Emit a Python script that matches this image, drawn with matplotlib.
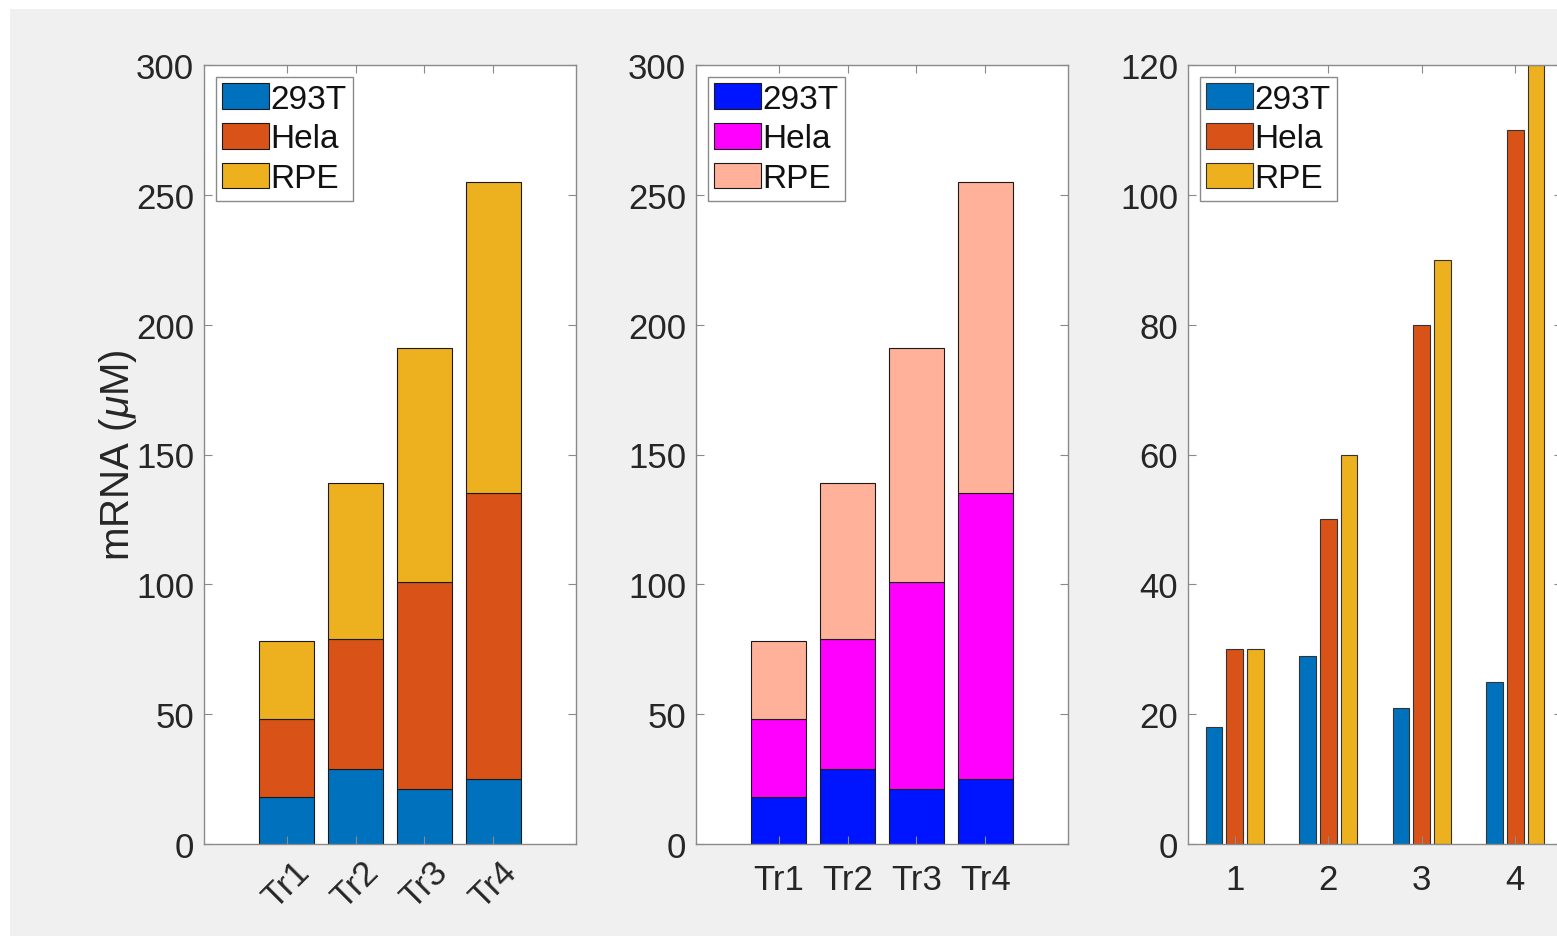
import numpy as np
import matplotlib
matplotlib.use('Agg')
import matplotlib.pyplot as plt
from matplotlib.patches import Rectangle
from matplotlib.transforms import ScaledTranslation

plt.rcParams['font.family'] = ['Liberation Sans', 'DejaVu Sans']
plt.rcParams['mathtext.fontset'] = 'custom'
plt.rcParams['mathtext.it'] = 'Liberation Sans:italic'
plt.rcParams['mathtext.rm'] = 'Liberation Sans'

# Datos por línea celular y tratamiento
tratamientos = ['Tr1', 'Tr2', 'Tr3', 'Tr4']
grupos = [1, 2, 3, 4]
lineas = ['293T', 'Hela', 'RPE']
val_293t = [18, 29, 21, 25]
val_hela = [30, 50, 80, 110]
val_rpe = [30, 60, 90, 120]

colores_matlab = ['#0072BD', '#D95319', '#EDB120']
colores_custom = ['#0015FF', '#FF00FF', '#FFB199']

W, H = 1557, 937
TXT = '#262626'
EJE = '#8a8a8a'

fig = plt.figure(figsize=(W / 100, H / 100), dpi=100, facecolor='white')
fig.patches.append(Rectangle((10 / W, 0), 1, (H - 10) / H, transform=fig.transFigure,
                             facecolor='#f0f0f0', edgecolor='none', zorder=-10))


def estilo_ejes(ax):
    for s in ax.spines.values():
        s.set_color(EJE)
        s.set_linewidth(1.0)
    ax.tick_params(direction='in', length=6, width=0.8, color=EJE,
                   top=True, right=True, labelsize=25, labelcolor=TXT)
    ax.tick_params(axis='y', pad=7)
    ax.tick_params(axis='x', pad=14)


def apiladas(ax, colores):
    x = np.arange(1, len(tratamientos) + 1)
    base = np.zeros(len(x))
    for serie, nombre, c in zip([val_293t, val_hela, val_rpe], lineas, colores):
        ax.bar(x, serie, width=0.8, bottom=base, color=c, edgecolor='#1a1a1a',
               linewidth=0.8, label=nombre)
        base += np.array(serie)
    ax.set_xlim(-0.2, 5.2)
    ax.set_ylim(0, 300)
    ax.set_yticks(np.arange(0, 301, 50))
    ax.set_xticks(x)
    estilo_ejes(ax)


def leyenda(ax):
    lg = ax.legend(loc='upper left', fontsize=24, fancybox=False, framealpha=1,
                   edgecolor=EJE, handlelength=1.4, handleheight=0.8,
                   handletextpad=0.05, borderpad=0.2, labelspacing=0.25,
                   borderaxespad=0.35)
    lg.get_frame().set_linewidth(1.0)
    for t in lg.get_texts():
        t.set_color('#111111')


ax1 = fig.add_axes([204 / W, (H - 845) / H, 372 / W, 779 / H])
apiladas(ax1, colores_matlab)
ax1.set_xticklabels(tratamientos, rotation=45, ha='right', rotation_mode='anchor')
ax1.tick_params(axis='x', pad=8)
# etiquetas giradas un poco hacia la derecha
desplaza = ScaledTranslation(6 / 100, 0, fig.dpi_scale_trans)
for lbl in ax1.get_xticklabels():
    lbl.set_transform(lbl.get_transform() + desplaza)
ax1.set_ylabel(r'mRNA ($\mu$M)', fontsize=29, color=TXT, labelpad=-2)
leyenda(ax1)

ax2 = fig.add_axes([696 / W, (H - 845) / H, 372 / W, 779 / H])
apiladas(ax2, colores_custom)
ax2.set_xticklabels(tratamientos)
leyenda(ax2)

# Barras agrupadas
ax3 = fig.add_axes([1188 / W, (H - 845) / H, 374 / W, 779 / H])
xg = np.array(grupos, dtype=float)
desp = 0.222
for i, (serie, nombre, c) in enumerate(zip([val_293t, val_hela, val_rpe], lineas, colores_matlab)):
    ax3.bar(xg + (i - 1) * desp, serie, width=0.18, color=c, edgecolor='#333333',
            linewidth=0.8, label=nombre)
ax3.set_xlim(0.5, 4.5)
ax3.set_ylim(0, 120)
ax3.set_yticks(np.arange(0, 121, 20))
ax3.set_xticks(grupos)
estilo_ejes(ax3)
leyenda(ax3)

fig.savefig('out.png', dpi=100, facecolor=fig.get_facecolor())
